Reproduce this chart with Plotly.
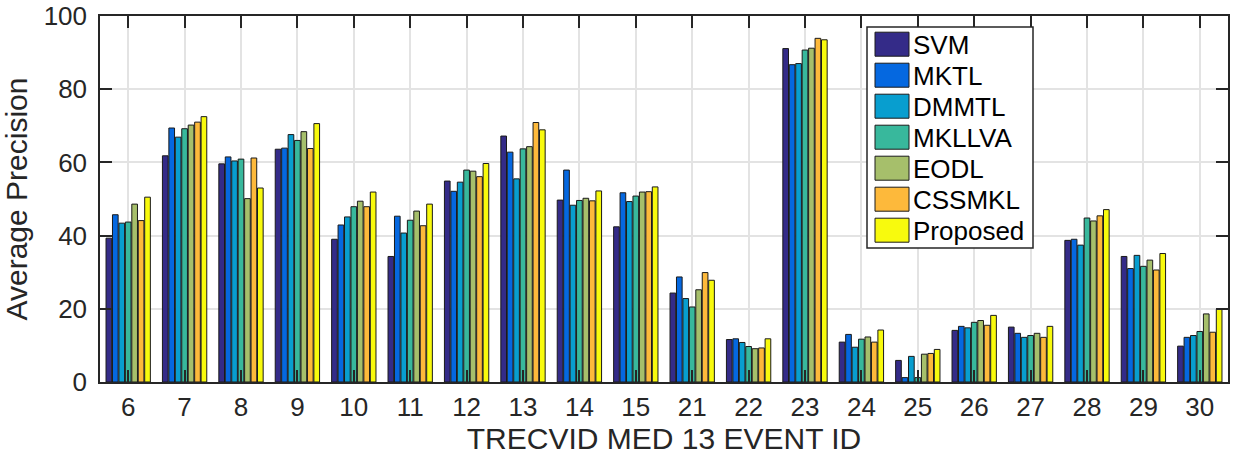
import plotly.graph_objects as go

categories = ["6", "7", "8", "9", "10", "11", "12", "13", "14", "15",
              "21", "22", "23", "24", "25", "26", "27", "28", "29", "30"]

svm      = [39.3, 61.8, 59.6, 63.6, 39.0, 34.3, 54.9, 67.2, 49.7, 42.4, 24.3, 11.6, 91.1, 10.9, 5.9, 14.1, 15.0, 38.7, 34.3, 9.8]
mktl     = [45.7, 69.4, 61.5, 63.9, 42.9, 45.3, 52.1, 62.8, 57.9, 51.7, 28.7, 11.8, 86.7, 13.0, 1.2, 15.2, 13.3, 39.0, 31.0, 12.2]
dmmtl    = [43.4, 66.9, 60.4, 67.6, 45.1, 40.7, 54.6, 55.5, 48.3, 49.3, 22.8, 10.8, 87.0, 9.5, 7.0, 14.8, 12.2, 37.4, 34.6, 12.7]
mkllva   = [43.7, 69.2, 60.9, 66.0, 47.9, 44.2, 57.9, 63.7, 49.6, 50.8, 20.5, 9.7, 90.7, 11.7, 1.2, 16.3, 12.7, 44.8, 31.6, 13.8]
eodl     = [48.6, 70.2, 50.1, 68.4, 49.4, 46.7, 57.6, 64.3, 50.2, 51.9, 25.2, 9.1, 91.2, 12.3, 7.6, 16.8, 13.3, 44.0, 33.3, 18.6]
cssmkl   = [44.1, 71.0, 61.2, 63.8, 47.9, 42.7, 56.1, 70.9, 49.5, 52.0, 29.9, 9.3, 93.9, 10.9, 7.8, 15.5, 12.2, 45.4, 30.6, 13.6]
proposed = [50.5, 72.5, 53.0, 70.6, 51.9, 48.6, 59.7, 68.9, 52.2, 53.3, 27.8, 11.8, 93.5, 14.2, 8.9, 18.2, 15.2, 47.1, 35.1, 19.9]

series_names = ["SVM", "MKTL", "DMMTL", "MKLLVA", "EODL", "CSSMKL", "Proposed"]
series_values = [svm, mktl, dmmtl, mkllva, eodl, cssmkl, proposed]
colors = ["#342b88", "#0568e0", "#089ecf", "#38b89c", "#a6bf6b", "#fdb93b", "#f8fa0d"]

y_ticks = [0, 20, 40, 60, 80, 100]

FONT = "Liberation Sans, Arial, Helvetica, sans-serif"
AXC = "#262626"

fig = go.Figure()
for name, vals, col in zip(series_names, series_values, colors):
    fig.add_trace(go.Bar(
        x=categories, y=vals, name=name,
        marker=dict(color=col, line=dict(color="#1a1a1a", width=1)),
        showlegend=False,
    ))

W, H = 1236, 461
# plot area in window pixels: x 100..1228, y 16..382
PL, PR, PT, PB = 100, 1228, 16, 382
ml, mr, mt, mb = PL, W - PR, PT, H - PB

def px(x):
    return (x - PL) / (PR - PL)

def py(y):
    return 1 - (y - PT) / (PB - PT)

# MATLAB-style legend box with large swatches
shapes = [dict(type="rect", xref="paper", yref="paper",
               x0=px(867), x1=px(1033), y0=py(248), y1=py(27),
               line=dict(color=AXC, width=1.5), fillcolor="white", layer="above")]
annotations = []
for i, (name, col) in enumerate(zip(series_names, colors)):
    cy = 44.2 + i * 31
    shapes.append(dict(type="rect", xref="paper", yref="paper",
                       x0=px(875), x1=px(909), y0=py(cy + 12), y1=py(cy - 12),
                       line=dict(color="#1a1a1a", width=1), fillcolor=col, layer="above"))
    annotations.append(dict(xref="paper", yref="paper", x=px(911), y=py(cy + 1),
                            text=name, showarrow=False, xanchor="left", yanchor="middle",
                            font=dict(family=FONT, size=26, color="black")))

fig.update_layout(
    width=W, height=H, autosize=False,
    margin=dict(l=ml, r=mr, t=mt, b=mb, autoexpand=False),
    plot_bgcolor="white", paper_bgcolor="white",
    barmode="group", bargap=0.2, bargroupgap=0.12,
    shapes=shapes, annotations=annotations,
    font=dict(family=FONT, size=26, color=AXC),
    xaxis=dict(
        type="category", categoryorder="array", categoryarray=categories,
        range=[-0.5, len(categories) - 0.5],
        showgrid=True, gridcolor="#e3e3e3", gridwidth=2,
        showline=True, linecolor=AXC, linewidth=1.5, mirror="ticks",
        ticks="inside", ticklen=12, tickwidth=1.5, tickcolor=AXC,
        tickfont=dict(family=FONT, size=26, color=AXC),
        ticklabelstandoff=1,
        automargin=False,
        title=dict(text="TRECVID MED 13 EVENT ID", font=dict(family=FONT, size=30, color=AXC), standoff=6),
    ),
    yaxis=dict(
        range=[0, 100], tickvals=y_ticks,
        showgrid=True, gridcolor="#e3e3e3", gridwidth=2,
        showline=True, linecolor=AXC, linewidth=1.5, mirror="ticks",
        ticks="inside", ticklen=12, tickwidth=1.5, tickcolor=AXC,
        tickfont=dict(family=FONT, size=26, color=AXC),
        ticklabelstandoff=6, ticklabeloverflow="allow",
        automargin=False,
        zeroline=False,
        title=dict(text="Average Precision", font=dict(family=FONT, size=30, color=AXC), standoff=9),
    ),
)

# remove the browser's default body margin so the figure sits at the window origin
fig.write_html("out.html", config={"displayModeBar": False},
               post_script="document.body.style.margin='0';")
